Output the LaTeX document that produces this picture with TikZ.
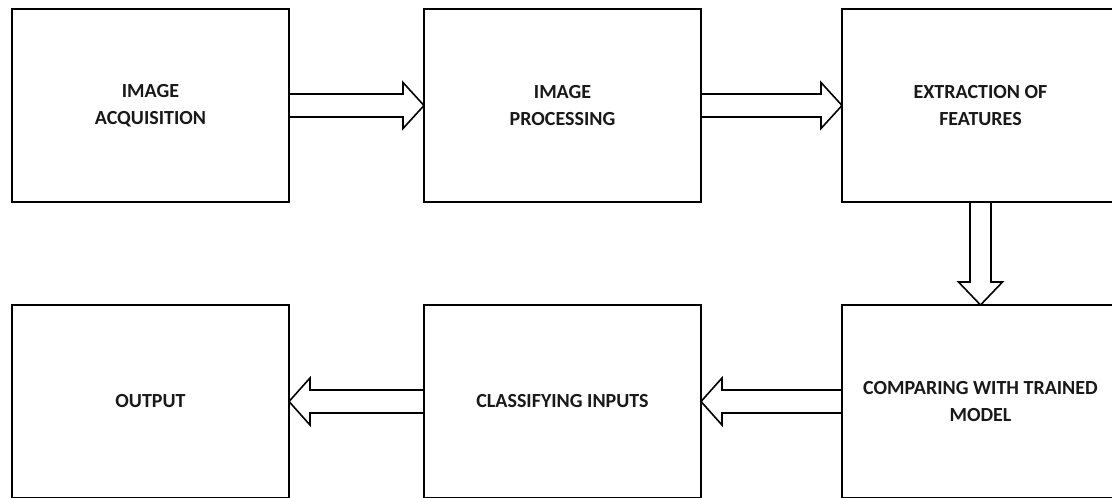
\documentclass[tikz,border=0pt]{standalone}
\usepackage{fontspec}
\setmainfont{Carlito}
\usetikzlibrary{calc}
\begin{document}
\begin{tikzpicture}[x=1pt,y=-1pt,
  stagebox/.style={draw=black,line width=2pt,minimum width=277pt,minimum height=193pt,
    inner sep=0pt,outer sep=0pt,align=center,font=\fontsize{20}{27}\selectfont\bfseries,text=black!90},
  blockarr/.style={draw=black,line width=1.6pt,line join=miter}]
\useasboundingbox (0,0) rectangle (1112,498);
\clip (0,0) rectangle (1112,498);
\fill[white] (0,0) rectangle (1112,498);
\node[stagebox] (acq) at (150.5,105.5) {IMAGE\\ACQUISITION};
\node[stagebox] (proc) at (562.5,105.5) {IMAGE\\PROCESSING};
\node[stagebox] (feat) at (980.5,105.5) {EXTRACTION OF\\FEATURES};
\node[stagebox] (out) at (150.5,401.5) {OUTPUT};
\node[stagebox] (cls) at (562.5,401.5) {CLASSIFYING INPUTS};
\node[stagebox] (cmp) at (980.5,401.5) {COMPARING WITH TRAINED\\MODEL};
% acq -> proc
\draw[blockarr] ($(acq.east)+(0,-11.5)$) -- ($(proc.west)+(-21,-11.5)$) -- ($(proc.west)+(-21,-23)$)
  -- (proc.west) -- ($(proc.west)+(-21,23)$) -- ($(proc.west)+(-21,11.5)$) -- ($(acq.east)+(0,11.5)$);
% proc -> feat
\draw[blockarr] ($(proc.east)+(0,-11.5)$) -- ($(feat.west)+(-21,-11.5)$) -- ($(feat.west)+(-21,-23)$)
  -- (feat.west) -- ($(feat.west)+(-21,23)$) -- ($(feat.west)+(-21,11.5)$) -- ($(proc.east)+(0,11.5)$);
% feat -> cmp
\draw[blockarr] ($(feat.south)+(-10.5,0)$) -- ($(cmp.north)+(-10.5,-23)$) -- ($(cmp.north)+(-22,-23)$)
  -- (cmp.north) -- ($(cmp.north)+(22,-23)$) -- ($(cmp.north)+(10.5,-23)$) -- ($(feat.south)+(10.5,0)$);
% cmp -> cls
\draw[blockarr] ($(cmp.west)+(0,-11.5)$) -- ($(cls.east)+(21,-11.5)$) -- ($(cls.east)+(21,-23.5)$)
  -- (cls.east) -- ($(cls.east)+(21,23.5)$) -- ($(cls.east)+(21,11.5)$) -- ($(cmp.west)+(0,11.5)$);
% cls -> out
\draw[blockarr] ($(cls.west)+(0,-11.5)$) -- ($(out.east)+(21,-11.5)$) -- ($(out.east)+(21,-23.5)$)
  -- (out.east) -- ($(out.east)+(21,23.5)$) -- ($(out.east)+(21,11.5)$) -- ($(cls.west)+(0,11.5)$);
\end{tikzpicture}
\end{document}
